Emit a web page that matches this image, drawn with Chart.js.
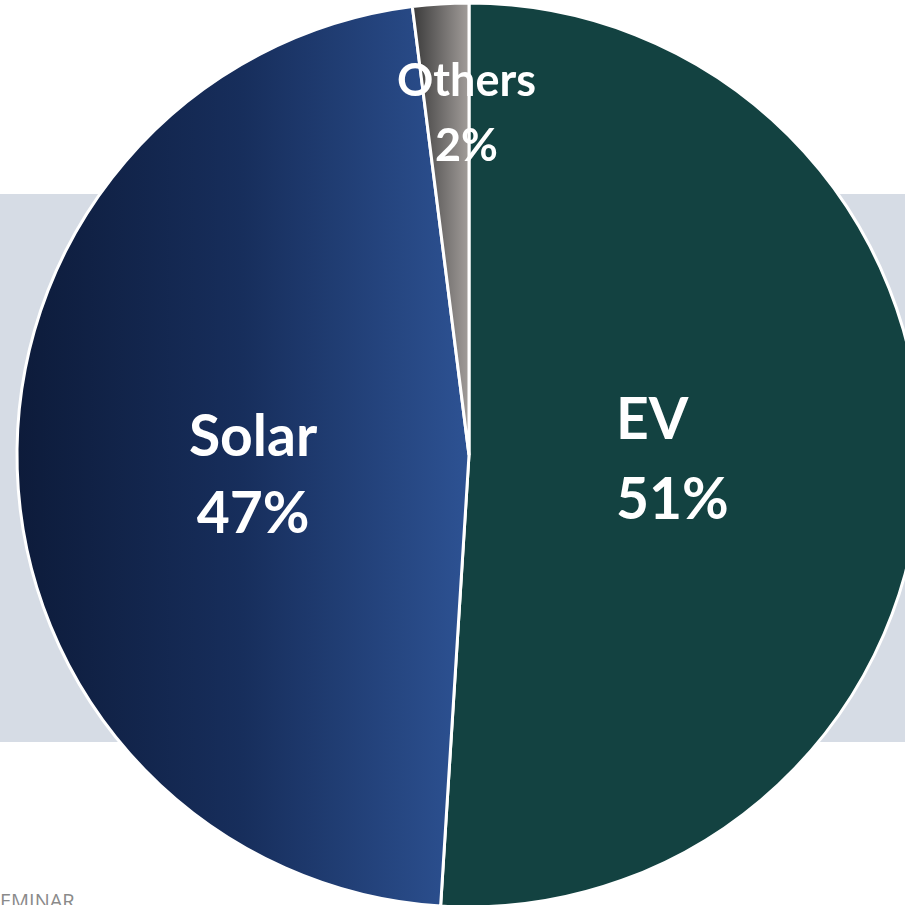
<!DOCTYPE html>
<html>
<head>
<meta charset="utf-8">
<script src="https://cdn.jsdelivr.net/npm/chart.js@4"></script>
<style>
  html, body { margin: 0; padding: 0; width: 905px; height: 905px; overflow: hidden; background: #fff; }
  #band { position: absolute; left: 0; top: 194px; width: 905px; height: 548px; background: #d6dce5; }
  #footer { position: absolute; left: -11px; top: 891px; font: 20px "Open Sans"; line-height: 20px; color: #8a8a8a; }
  #chart { position: absolute; left: 0; top: 0; }
</style>
</head>
<body>
<div id="band"></div>
<div id="footer">SEMINAR</div>
<canvas id="chart" width="938" height="910"></canvas>
<script>
const categories = ['EV', 'Solar', 'Others'];
const shares = [51, 47, 2];

// left-to-right gradient stops per slice (EV is flat)
const fills = [
    ['#134241', '#134241'],
    ['#0d1b3a', '#172e5c', '#2d5293'],
    ['#3a3a3a', '#a29d9a']
];

const RADIUS = 452;

// x extent of a slice (angles clockwise from top)
function sliceXRange(cx, r, a0, a1) {
    const xs = [cx];
    const steps = 60;
    for (let k = 0; k <= steps; k++) {
        const a = a0 + (a1 - a0) * k / steps;
        xs.push(cx + Math.sin(a) * r);
    }
    return [Math.min(...xs), Math.max(...xs)];
}

function sliceFill(c) {
    const chart = c.chart;
    const area = chart.chartArea;
    const stops = fills[c.dataIndex];
    if (!area) return stops[0];
    const total = shares.reduce((a, b) => a + b, 0);
    let before = 0;
    for (let k = 0; k < c.dataIndex; k++) before += shares[k];
    const a0 = before / total * Math.PI * 2;
    const a1 = (before + shares[c.dataIndex]) / total * Math.PI * 2;
    const cx = (area.left + area.right) / 2;
    const [x0, x1] = sliceXRange(cx, RADIUS, a0, a1);
    const g = chart.ctx.createLinearGradient(x0, 0, x1, 0);
    stops.forEach((col, k) => g.addColorStop(k / (stops.length - 1), col));
    return g;
}

const labelPlugin = {
    id: 'sliceLabels',
    afterDatasetsDraw(chart, args, opts) {
        const ctx = chart.ctx;
        const meta = chart.getDatasetMeta(0);
        meta.data.forEach((arc, i) => {
            const s = opts.styles[i];
            const p = arc.getProps(['x', 'y', 'startAngle', 'endAngle', 'outerRadius'], true);
            const mid = (p.startAngle + p.endAngle) / 2;
            const r = p.outerRadius * s.at;
            const cx = p.x + Math.cos(mid) * r + s.dx;
            const cy = p.y + Math.sin(mid) * r + s.dy;
            const lines = [categories[i], shares[i] + '%'];
            ctx.save();
            ctx.font = 'bold ' + s.size + 'px Lato';
            ctx.fillStyle = '#ffffff';
            ctx.textBaseline = 'alphabetic';
            const capH = s.size * 0.717;
            const w = Math.max(...lines.map(t => ctx.measureText(t).width));
            let y = cy - (capH + s.lh * (lines.length - 1)) / 2 + capH;
            lines.forEach(t => {
                if (s.align === 'left') {
                    ctx.textAlign = 'left';
                    ctx.fillText(t, cx - w / 2, y);
                } else {
                    ctx.textAlign = 'center';
                    ctx.fillText(t, cx, y);
                }
                y += s.lh;
            });
            ctx.restore();
        });
    }
};

new Chart(document.getElementById('chart').getContext('2d'), {
    type: 'pie',
    data: {
        labels: categories,
        datasets: [{
            data: shares,
            backgroundColor: sliceFill,
            borderColor: '#ffffff',
            borderWidth: 3
        }]
    },
    options: {
        responsive: false,
        animation: false,
        radius: RADIUS,
        layout: { padding: 0 },
        plugins: {
            legend: { display: false },
            tooltip: { enabled: false },
            sliceLabels: {
                styles: [
                    { at: 0.45, dx: 0, dy: -3, size: 57, lh: 80, align: 'left' },
                    { at: 0.478, dx: 0, dy: 12, size: 57, lh: 77, align: 'center' },
                    { at: 0.76, dx: 19, dy: 0, size: 45, lh: 65, align: 'center' }
                ]
            }
        }
    },
    plugins: [labelPlugin]
});
</script>
</body>
</html>
